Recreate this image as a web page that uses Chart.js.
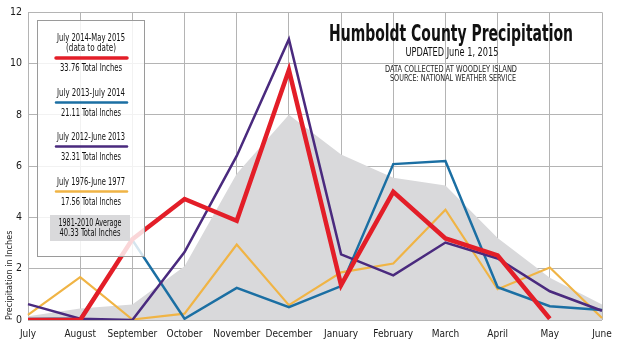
<!DOCTYPE html>
<html>
<head>
<meta charset="utf-8">
<script src="https://cdn.jsdelivr.net/npm/chart.js@4.4.1/dist/chart.umd.min.js"></script>
<style>
  html, body { margin: 0; padding: 0; background: #fff; }
  #wrap { width: 620px; height: 342px; position: relative; }
</style>
</head>
<body>
<div id="wrap"><canvas id="c" width="620" height="342"></canvas></div>
<script>
// Monthly precipitation, Humboldt County (Woodley Island), inches
const months = ['July', 'August', 'September', 'October', 'November', 'December',
                'January', 'February', 'March', 'April', 'May', 'June'];
const season2014 = [0, 0, 3.15, 4.72, 3.87, 9.75, 1.36, 5.0, 3.18, 2.52, 0.05, null];
const season2013 = [0.04, 0.06, 3.12, 0.05, 1.25, 0.5, 1.32, 6.08, 6.2, 1.28, 0.54, 0.39];
const season2012 = [0.62, 0.05, 0.0, 2.65, 6.4, 10.95, 2.56, 1.74, 3.02, 2.4, 1.12, 0.36];
const season1976 = [0.2, 1.67, 0.02, 0.25, 2.94, 0.58, 1.86, 2.2, 4.3, 1.2, 2.05, 0.08];
const average8110 = [0.15, 0.45, 0.6, 2.1, 5.7, 8.0, 6.45, 5.55, 5.25, 3.2, 1.65, 0.6];
const yTicks = [0, 2, 4, 6, 8, 10, 12];

const seriesNames = ['July 2014-May 2015', 'July 2013-July 2014', 'July 2012-June 2013', 'July 1976-June 1977', '1981-2010 Average'];
const seriesTotals = ['33.76 Total Inches', '21.11 Total Inches', '32.31 Total Inches', '17.56 Total Inches', '40.33 Total Inches'];
const seriesColors = ['#e31e28', '#1b6fa3', '#4a2a7e', '#f0b445', '#d9d9db'];

const NARROW = "'DejaVu Sans Condensed', 'Liberation Sans', sans-serif";

// draw text squeezed or stretched to a given width
function fitText(ctx, text, cx, cy, width, font, color) {
  ctx.save();
  ctx.font = font;
  ctx.fillStyle = color;
  ctx.textAlign = 'center';
  ctx.textBaseline = 'middle';
  const w = ctx.measureText(text).width;
  const s = width / w;
  ctx.translate(cx, cy);
  ctx.scale(s, 1);
  ctx.fillText(text, 0, 0);
  ctx.restore();
}

const headerPlugin = {
  id: 'header',
  afterDatasetsDraw(chart) {
    const ctx = chart.ctx;
    fitText(ctx, 'Humboldt County Precipitation', 451, 35, 244, "bold 23px " + NARROW, '#111');
    fitText(ctx, 'UPDATED June 1, 2015', 452, 53, 93, "12px " + NARROW, '#111');
    fitText(ctx, 'DATA COLLECTED AT WOODLEY ISLAND', 451, 70, 132, "8px " + NARROW, '#222');
    fitText(ctx, 'SOURCE: NATIONAL WEATHER SERVICE', 453, 79, 126, "8px " + NARROW, '#222');
  }
};

// key box in the upper left of the plot
const keyPlugin = {
  id: 'keyBox',
  afterDatasetsDraw(chart) {
    const ctx = chart.ctx;
    ctx.save();
    ctx.fillStyle = 'rgba(255,255,255,0.82)';
    ctx.fillRect(37, 20, 107, 236);
    ctx.strokeStyle = '#9a9a9a';
    ctx.lineWidth = 1;
    ctx.strokeRect(37.5, 20.5, 107, 236);

    const cx = 91;
    const font = "10.5px " + NARROW;
    const drawLine = (y, color, w) => {
      ctx.beginPath();
      ctx.strokeStyle = color;
      ctx.lineWidth = w;
      ctx.lineCap = 'round';
      ctx.moveTo(56, y);
      ctx.lineTo(127, y);
      ctx.stroke();
    };
    // first season has a two-line label
    fitText(ctx, seriesNames[0], cx, 38, 68, font, '#111');
    fitText(ctx, '(data to date)', cx, 48, 50, font, '#111');
    drawLine(58, seriesColors[0], 3.5);
    fitText(ctx, seriesTotals[0], cx, 68, 62, font, '#111');

    const rows = [93, 137, 182];
    for (let i = 1; i <= 3; i++) {
      const y = rows[i - 1];
      fitText(ctx, seriesNames[i], cx, y, 68, font, '#111');
      drawLine(y + 9.5, seriesColors[i], 2.5);
      fitText(ctx, seriesTotals[i], cx, y + 20, 60, font, '#111');
    }
    ctx.fillStyle = seriesColors[4];
    ctx.fillRect(50, 215, 80, 26);
    fitText(ctx, seriesNames[4], 90, 223.5, 63, font, '#111');
    fitText(ctx, seriesTotals[4], 90, 233, 61, font, '#111');
    ctx.restore();
  }
};

const lineDs = (label, data, color, width) => ({
  label, data,
  borderColor: color,
  borderWidth: width,
  pointRadius: 0,
  fill: false,
  tension: 0,
  borderJoinStyle: 'miter',
  spanGaps: false
});

new Chart(document.getElementById('c'), {
  type: 'line',
  data: {
    labels: months,
    datasets: [
      lineDs(seriesNames[0], season2014, seriesColors[0], 4.5),
      lineDs(seriesNames[2], season2012, seriesColors[2], 2.5),
      lineDs(seriesNames[1], season2013, seriesColors[1], 2.5),
      lineDs(seriesNames[3], season1976, seriesColors[3], 2.2),
      {
        label: seriesNames[4],
        data: average8110,
        borderWidth: 0,
        borderColor: 'rgba(0,0,0,0)',
        backgroundColor: seriesColors[4],
        fill: 'origin',
        pointRadius: 0,
        tension: 0
      }
    ]
  },
  options: {
    responsive: false,
    animation: false,
    layout: { padding: { top: 10, right: 18, left: 0, bottom: 0 } },
    plugins: {
      legend: { display: false },
      tooltip: { enabled: false },
      title: { display: false }
    },
    scales: {
      x: {
        type: 'category',
        offset: false,
        grid: { color: '#b4b4b4', lineWidth: 1, drawTicks: false },
        border: { display: false },
        ticks: {
          color: '#1a1a1a',
          font: { family: NARROW, size: 10 },
          padding: 8,
          maxRotation: 0,
          autoSkip: false
        },
        afterFit(scale) { scale.height = 22; }
      },
      y: {
        min: 0, max: 12,
        afterBuildTicks(scale) { scale.ticks = yTicks.map(v => ({ value: v })); },
        grid: { color: '#b4b4b4', lineWidth: 1, drawTicks: false },
        border: { display: false },
        ticks: {
          color: '#1a1a1a',
          font: { family: NARROW, size: 10.5 },
          padding: 6
        },
        title: {
          display: true,
          text: 'Precipitation in Inches',
          align: 'start',
          color: '#1a1a1a',
          font: { family: NARROW, size: 9 },
          padding: { top: 4, bottom: 0 }
        },
        afterFit(scale) { scale.width = 28; }
      }
    }
  },
  plugins: [keyPlugin, headerPlugin]
});
</script>
</body>
</html>
